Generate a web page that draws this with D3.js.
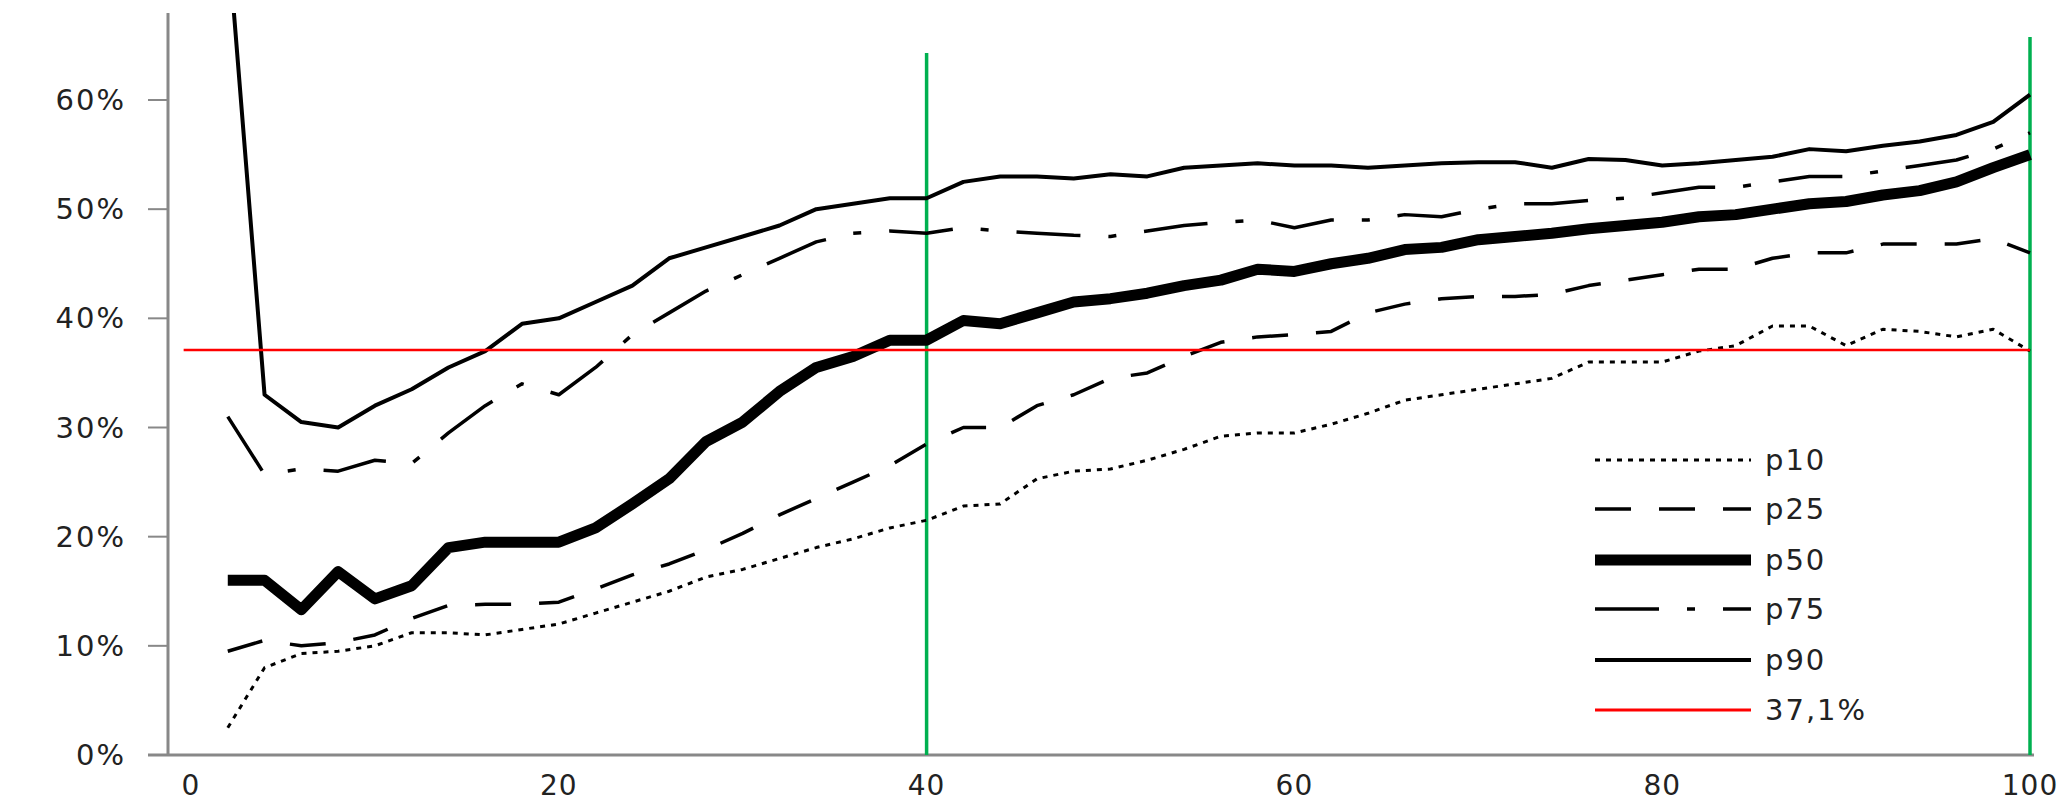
<!DOCTYPE html>
<html><head><meta charset="utf-8">
<script src="https://cdn.jsdelivr.net/npm/d3@7/dist/d3.min.js"></script>
<style>body{margin:0;background:#fff}</style></head>
<body><svg id="c" width="2057" height="806"></svg>
<script>
const xs = d3.range(2, 101, 2);
const p10 = [2.5,8,9.3,9.5,10,11.2,11.2,11,11.5,12,13,14,15,16.3,17,18,19,19.8,20.8,21.5,22.8,23,25.3,26,26.2,27,28,29.2,29.5,29.5,30.3,31.3,32.5,33,33.5,34,34.5,36,36,36,37,37.5,39.3,39.3,37.5,39,38.8,38.3,39,37];
const p25 = [9.5,10.5,10,10.3,11,12.5,13.7,13.8,13.8,14,15.2,16.5,17.5,18.8,20.3,22,23.5,25,26.5,28.5,30,30,32,33,34.5,35,36.5,37.8,38.3,38.5,38.8,40.5,41.3,41.8,42,42,42.2,43,43.5,44,44.5,44.5,45.5,46,46,46.8,46.8,46.8,47.3,46];
const p50 = [16,16,13.3,16.8,14.3,15.5,19,19.5,19.5,19.5,20.8,23,25.3,28.7,30.5,33.3,35.5,36.5,38,38,39.8,39.5,40.5,41.5,41.8,42.3,43,43.5,44.5,44.3,45,45.5,46.3,46.5,47.2,47.5,47.8,48.2,48.5,48.8,49.3,49.5,50,50.5,50.7,51.3,51.7,52.5,53.8,55];
const p75 = [31,25.7,26.2,26,27,26.7,29.5,32,34,33,35.5,38.5,40.5,42.5,44,45.5,47,47.8,48,47.8,48.3,48,47.8,47.6,47.5,48,48.5,48.8,49,48.3,49,49,49.5,49.3,50,50.5,50.5,50.8,51,51.5,52,52,52.5,53,53,53.5,54,54.5,55.5,57];
const p90 = [75,33,30.5,30,32,33.5,35.5,37,39.5,40,41.5,43,45.5,46.5,47.5,48.5,50,50.5,51,51,52.5,53,53,52.8,53.2,53,53.8,54,54.2,54,54,53.8,54,54.2,54.3,54.3,53.8,54.6,54.5,54,54.2,54.5,54.8,55.5,55.3,55.8,56.2,56.8,58,60.5];
const refValue = 37.1;
const refLabel = "37,1%";
const markers = [40, 100];
const yTicks = [0,10,20,30,40,50,60];
const xTicks = [0,20,40,60,80,100];

const svg = d3.select("#c");
const x = d3.scaleLinear().domain([0,100]).range([191,2030]);
const y = d3.scaleLinear().domain([0,60]).range([755,100]);
const font = "DejaVu Sans, Verdana, sans-serif";

svg.append("defs").append("clipPath").attr("id","clip").append("rect")
  .attr("x",168).attr("y",13).attr("width",1890).attr("height",745);

svg.append("line").attr("x1",168).attr("x2",168).attr("y1",13).attr("y2",755).attr("stroke","#888").attr("stroke-width",3);
svg.append("line").attr("x1",148).attr("x2",2034).attr("y1",755).attr("y2",755).attr("stroke","#888").attr("stroke-width",3);
yTicks.forEach(t=>{
  svg.append("line").attr("x1",148).attr("x2",168).attr("y1",y(t)).attr("y2",y(t)).attr("stroke","#888").attr("stroke-width",2);
  svg.append("text").attr("x",126).attr("y",y(t)+10).attr("text-anchor","end")
    .attr("font-family",font).attr("font-size",29).attr("letter-spacing",2).attr("fill","#222").text(t+"%");
});
xTicks.forEach(t=>{
  svg.append("text").attr("x",x(t)).attr("y",795).attr("text-anchor","middle")
    .attr("font-family",font).attr("font-size",28).attr("letter-spacing",1).attr("fill","#222").text(t);
});

markers.forEach((m,i)=>{
  svg.append("line").attr("x1",x(m)).attr("x2",x(m)).attr("y1",i===0?53:37).attr("y2",755).attr("stroke","#00b050").attr("stroke-width",3.5);
});

const series = [
  {name:"p10", data:p10, w:3, dash:"5,6"},
  {name:"p25", data:p25, w:3.5, dash:"36,28"},
  {name:"p50", data:p50, w:11, dash:null},
  {name:"p75", data:p75, w:3.5, dash:"64,28,8,28"},
  {name:"p90", data:p90, w:4, dash:null}
];
const line = d3.line().x((d,i)=>x(xs[i])).y(d=>y(d));
const g = svg.append("g").attr("clip-path","url(#clip)");
series.forEach(s=>{
  g.append("path").datum(s.data).attr("d",line).attr("fill","none").attr("stroke","#000")
    .attr("stroke-width",s.w).attr("stroke-dasharray",s.dash).attr("stroke-linejoin","round");
});
g.append("line").attr("x1",x(-0.4)).attr("x2",x(100)).attr("y1",y(refValue)).attr("y2",y(refValue)).attr("stroke","#ff0000").attr("stroke-width",2.5);

const legY = [460,509,560,609,660,710];
const items = series.concat([{name:refLabel, w:3, dash:null, color:"#ff0000"}]);
items.forEach((s,i)=>{
  svg.append("line").attr("x1",1595).attr("x2",1751).attr("y1",legY[i]).attr("y2",legY[i])
    .attr("stroke",s.color||"#000").attr("stroke-width",s.w).attr("stroke-dasharray",s.dash);
  svg.append("text").attr("x",1765).attr("y",legY[i]+10).attr("font-family",font).attr("font-size",29)
    .attr("letter-spacing",2).attr("fill","#222").text(s.name);
});
</script></body></html>
